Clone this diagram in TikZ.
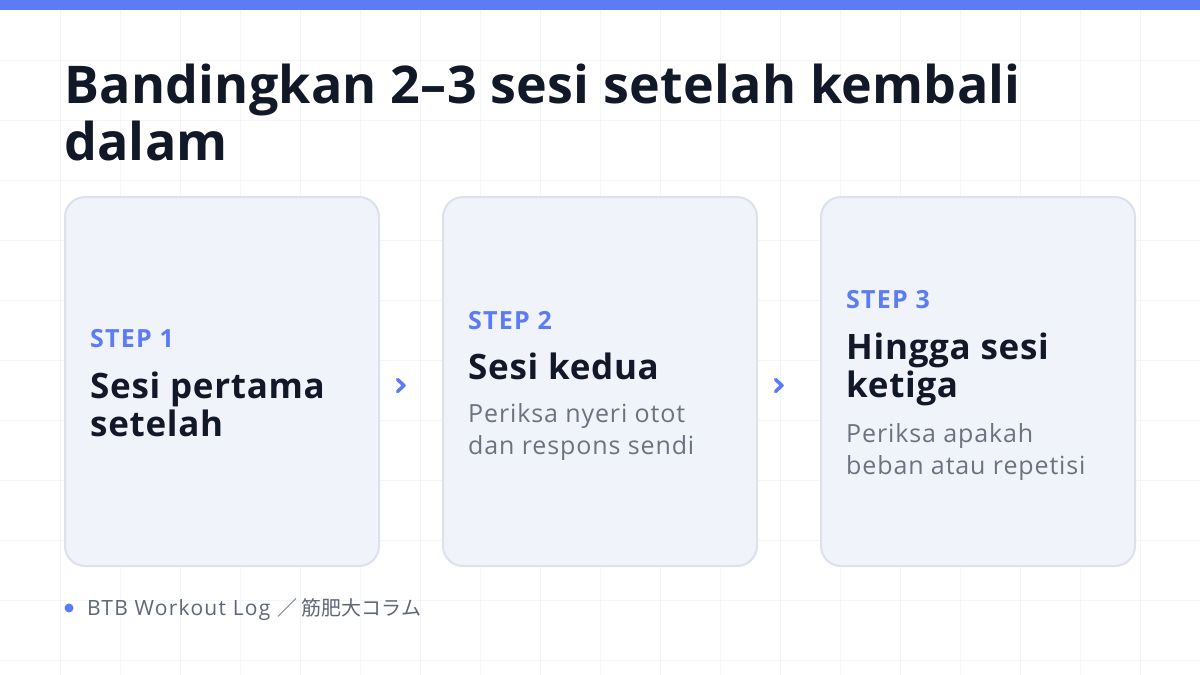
\documentclass[tikz,border=0pt]{standalone}
\usepackage{fontspec}
\setmainfont{Open Sans}
\newfontfamily\jpfont{Noto Sans CJK JP}
\newfontfamily\titlefont[LetterSpace=0.5]{Open Sans}
\newfontfamily\headfont[LetterSpace=2]{Open Sans}
\newfontfamily\descfont[LetterSpace=3.5]{Open Sans}
\newfontfamily\stepfont[LetterSpace=5]{Open Sans}
\newfontfamily\footfont[LetterSpace=6]{Open Sans}
\usetikzlibrary{calc}
\definecolor{accent}{HTML}{5B7CF5}
\definecolor{ink}{HTML}{111827}
\definecolor{muted}{HTML}{6B7280}
\definecolor{footc}{HTML}{5F6675}
\definecolor{cardfill}{HTML}{F1F3FB}
\definecolor{cardline}{HTML}{DDE1EC}
\definecolor{gridc}{HTML}{F4F5F7}
\tikzset{
  card/.style={draw=cardline, line width=2pt, fill=cardfill, rounded corners=20pt,
    minimum width=314pt, minimum height=369pt, inner sep=0pt},
  steplabel/.style={anchor=base west, inner sep=0pt, text=accent, font=\stepfont\fontsize{25}{28}\selectfont\bfseries},
  headline/.style={anchor=base west, inner sep=0pt, text=ink, font=\headfont\fontsize{35}{39}\selectfont\bfseries},
  desc/.style={anchor=base west, inner sep=0pt, text=muted, font=\descfont\fontsize{25}{33}\selectfont},
  titleline/.style={anchor=base west, inner sep=0pt, text=ink, font=\titlefont\fontsize{52}{57}\selectfont\bfseries},
  chev/.style={draw=accent, line width=3.5pt, line cap=round, line join=round},
}
\begin{document}
\begin{tikzpicture}[x=1pt,y=-1pt]
\useasboundingbox (0,0) rectangle (1200,675);
\fill[white] (0,0) rectangle (1200,675);
\foreach \i in {60,120,...,1140} \draw[gridc, line width=1pt] (\i,0) -- (\i,675);
\foreach \j in {60,120,...,660} \draw[gridc, line width=1pt] (0,\j) -- (1200,\j);
\fill[accent] (0,0) rectangle (1200,10);
% title
\node[titleline] (t1) at (64,103) {Bandingkan 2–3 sesi setelah kembali};
\node[titleline] (t2) at (64,160) {dalam};
% cards
\node[card] (c1) at (222,381.5) {};
\node[card] (c2) at (600,381.5) {};
\node[card] (c3) at (978,381.5) {};
% card 1
\node[steplabel] (s1) at (90,347) {STEP 1};
\node[headline] (h1a) at (90,398) {Sesi pertama};
\node[headline] (h1b) at (90,436) {setelah};
% card 2
\node[steplabel] (s2) at (468,329) {STEP 2};
\node[headline] (h2a) at (468,379) {Sesi kedua};
\node[desc] (d2a) at (468,422) {Periksa nyeri otot};
\node[desc] (d2b) at (468,454) {dan respons sendi};
% card 3
\node[steplabel] (s3) at (846,308) {STEP 3};
\node[headline] (h3a) at (846,359) {Hingga sesi};
\node[headline] (h3b) at (846,397) {ketiga};
\node[desc] (d3a) at (846,442) {Periksa apakah};
\node[desc] (d3b) at (846,474) {beban atau repetisi};
% chevrons
\coordinate (m1) at ($(c1.east)!0.5!(c2.west)+(-10,4)$);
\coordinate (m2) at ($(c2.east)!0.5!(c3.west)+(-10,4)$);
\draw[chev] ($(m1)+(-3.5,-6)$) -- ($(m1)+(3,0)$) -- ($(m1)+(-3.5,6)$);
\draw[chev] ($(m2)+(-3.5,-6)$) -- ($(m2)+(3,0)$) -- ($(m2)+(-3.5,6)$);
% footer
\fill[accent] (69,608) circle (4.5pt);
\node[anchor=base west, inner sep=0pt, text=footc, font=\footfont\fontsize{21}{24}\selectfont] (foot) at (87,615) {BTB Workout Log {\jpfont\fontsize{20}{24}\selectfont ／ 筋肥大コラム}};
\end{tikzpicture}
\end{document}
